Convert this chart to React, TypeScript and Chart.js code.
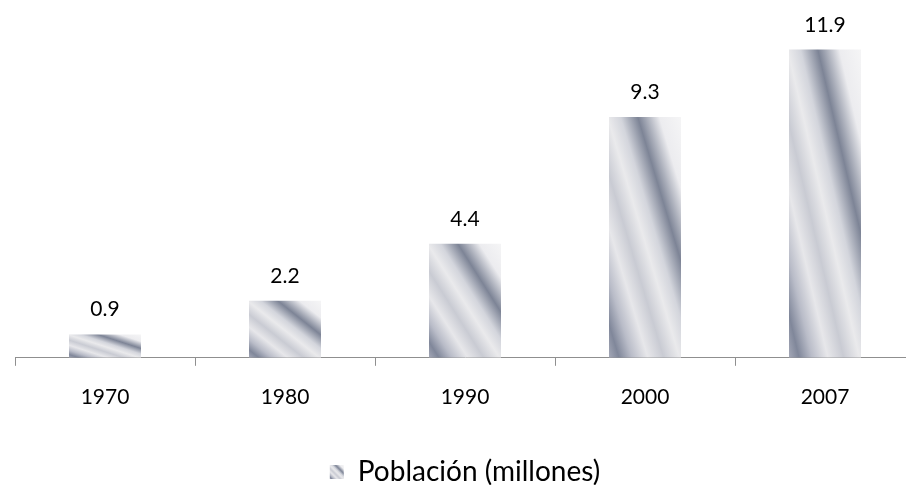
import React, { useEffect, useRef } from 'react';
import { Chart, registerables } from 'chart.js';

Chart.register(...registerables);

const years = ['1970', '1980', '1990', '2000', '2007'];
const population = [0.9, 2.2, 4.4, 9.3, 11.9];
const valueLabels = ['0.9', '2.2', '4.4', '9.3', '11.9'];
const seriesName = 'Población (millones)';
const yMax = 12;

const FONT = "Lato, 'Open Sans', sans-serif";

// silver-like diagonal gradient stops (0 = bottom-left corner, 1 = top-right corner)
const STOPS: [number, string][] = [
  [0, '#a4a8b7'],
  [0.07, '#80879a'],
  [0.16, '#b9bcc8'],
  [0.27, '#e7e7ea'],
  [0.38, '#c9cbd3'],
  [0.49, '#eaeaec'],
  [0.58, '#d3d5dc'],
  [0.7, '#7d8496'],
  [0.85, '#ececef'],
  [1, '#f5f5f6'],
];

function diagGradient(ctx: CanvasRenderingContext2D, left: number, top: number, right: number, bottom: number) {
  const w = Math.max(right - left, 1);
  const h = Math.max(bottom - top, 1);
  const k = (2 * w * h) / (w * w + h * h);
  const g = ctx.createLinearGradient(left, bottom, left + h * k, bottom - w * k);
  STOPS.forEach(([t, c]) => g.addColorStop(t, c));
  return g;
}

const valueLabelPlugin = {
  id: 'valueLabels',
  afterDatasetsDraw(chart: any) {
    const ctx = chart.ctx as CanvasRenderingContext2D;
    const meta = chart.getDatasetMeta(0);
    ctx.save();
    ctx.font = `21px ${FONT}`;
    ctx.fillStyle = '#000';
    ctx.textAlign = 'center';
    ctx.textBaseline = 'alphabetic';
    meta.data.forEach((el: any, i: number) => {
      ctx.fillText(valueLabels[i], el.x, el.y - 18);
    });
    ctx.restore();
  },
};

const legendSwatchPlugin = {
  id: 'legendSwatch',
  beforeDraw(chart: any) {
    const legend = chart.legend;
    if (!legend || !legend.legendHitBoxes || !legend.legendHitBoxes[0] || !legend.legendItems) return;
    const hb = legend.legendHitBoxes[0];
    const size = 14;
    const top = hb.top + (hb.height - size) / 2;
    legend.legendItems[0].fillStyle = diagGradient(chart.ctx, hb.left, top, hb.left + size, top + size);
  },
};

export default function App() {
  const ref = useRef<HTMLCanvasElement>(null);

  useEffect(() => {
    const canvas = ref.current!;
    const chart = new Chart(canvas, {
      type: 'bar',
      data: {
        labels: years,
        datasets: [
          {
            label: seriesName,
            data: population,
            backgroundColor: (c: any) => {
              const ch = c.chart;
              if (c.type !== 'data' || !ch.chartArea || c.dataIndex === undefined) return '#b8bbc6';
              const xs = ch.scales.x;
              const ys = ch.scales.y;
              const cx = xs.getPixelForValue(c.dataIndex);
              const half = ((xs.width / years.length) * 0.4) / 2;
              const top = ys.getPixelForValue(population[c.dataIndex]);
              const bottom = ys.getPixelForValue(0);
              return diagGradient(ch.ctx, cx - half, top, cx + half, bottom);
            },
            borderWidth: 0,
            categoryPercentage: 1,
            barPercentage: 0.4,
          },
        ],
      },
      options: {
        responsive: false,
        animation: false,
        devicePixelRatio: 1,
        events: [],
        layout: { padding: { top: 47, left: 15, right: 9, bottom: 0 } },
        scales: {
          x: {
            grid: {
              display: true,
              drawOnChartArea: false,
              drawTicks: true,
              tickLength: 8,
              color: '#8f8f8f',
              offset: true,
            },
            border: { display: true, color: '#8f8f8f', width: 1 },
            ticks: { color: '#000', font: { size: 21, family: FONT }, padding: 19 },
          },
          y: { display: false, min: 0, max: yMax },
        },
        plugins: {
          legend: {
            position: 'bottom',
            labels: {
              boxWidth: 14,
              boxHeight: 14,
              padding: 29,
              color: '#000',
              font: { size: 28, family: FONT },
            },
          },
          tooltip: { enabled: false },
        },
      },
      plugins: [valueLabelPlugin, legendSwatchPlugin],
    });
    return () => chart.destroy();
  }, []);

  return (
    <div style={{ position: 'fixed', left: 0, top: 0, width: 906, height: 485, background: '#fff', overflow: 'hidden' }}>
      <canvas ref={ref} width={924} height={496} style={{ width: 924, height: 496, display: 'block' }} />
    </div>
  );
}
